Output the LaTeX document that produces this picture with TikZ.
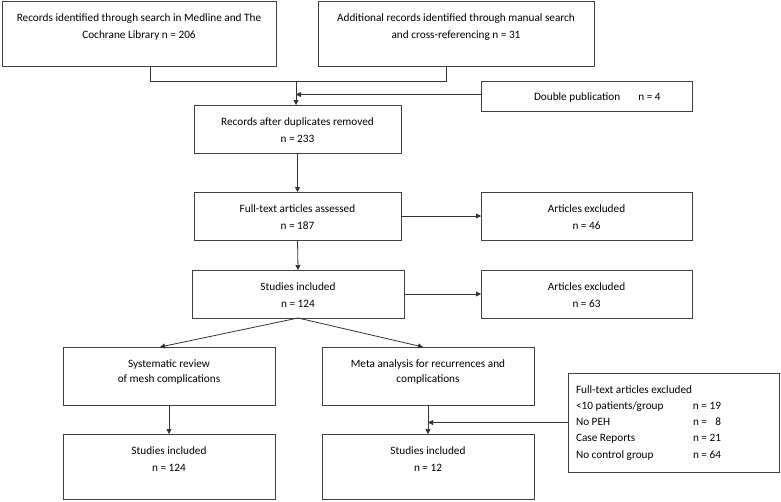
\documentclass[tikz,border=0pt]{standalone}
\usepackage{fontspec}
\setmainfont{Carlito}
\usetikzlibrary{arrows.meta,calc}
\newcommand{\cbox}[4]{\parbox[c][#2][t]{#1}{\fontsize{11.25pt}{#3}\selectfont\centering\rule{0pt}{20pt}#4}}
\tikzset{
  box/.style={draw=black!75, line width=0.8pt, inner sep=0pt, outer sep=0pt, anchor=north west},
  conn/.style={draw=black!80, line width=0.8pt},
  arr/.style={conn, -{Triangle[length=5pt,width=5pt]}}
}
\begin{document}
\begin{tikzpicture}[x=1pt,y=-1pt]
\useasboundingbox (0,0) rectangle (781,501);
\node[box] (b1) at (2,1) {\cbox{274pt}{65pt}{17pt}{Records identified through search in Medline and The\\Cochrane Library n = 206}};
\node[box] (b2) at (318,1) {\cbox{276pt}{65pt}{17pt}{Additional records identified through manual search\\and cross-referencing n = 31}};
\node[box] (dp) at (481,81) {\parbox[c][30pt][t]{211pt}{\fontsize{11.25pt}{17pt}\selectfont\rule{0pt}{19pt}\hspace*{53pt}Double publication\hspace{18pt}n = 4}};
\node[box] (b3) at (194,105) {\cbox{207pt}{48pt}{17pt}{Records after duplicates removed\\n = 233}};
\node[box] (b4) at (194,192) {\cbox{207pt}{48pt}{17pt}{Full-text articles assessed\\n = 187}};
\node[box] (ex1) at (481,192) {\cbox{211pt}{48pt}{17pt}{Articles excluded\\n = 46}};
\node[box] (b5) at (192,270) {\cbox{212pt}{48pt}{17pt}{Studies included\\n = 124}};
\node[box] (ex2) at (481,270) {\cbox{211pt}{48pt}{17pt}{Articles excluded\\n = 63}};
\node[box] (b6) at (63,347) {\cbox{212pt}{58pt}{15pt}{Systematic review\\of mesh complications}};
\node[box] (b7) at (322,347) {\cbox{212pt}{58pt}{15pt}{Meta analysis for recurrences and\\complications}};
\node[box] (b8) at (63,434) {\cbox{212pt}{65pt}{17pt}{Studies included\\n = 124}};
\node[box] (b9) at (322,434) {\cbox{212pt}{65pt}{17pt}{Studies included\\n = 12}};
\node[box] (b10) at (568,373) {\parbox[c][99pt][t]{211pt}{\fontsize{11.25pt}{16.3pt}\selectfont\raggedright\leftskip=8pt
\rule{0pt}{20pt}Full-text articles excluded\\
\makebox[117pt][l]{<10 patients/group}n = 19\\
\makebox[117pt][l]{No PEH}n = \phantom{1}8\\
\makebox[117pt][l]{Case Reports}n = 21\\
\makebox[117pt][l]{No control group}n = 64}};
\coordinate (j1) at (150,81);
\coordinate (j2) at (446,81);
\coordinate (m) at (296,81);
\draw[conn] (j1 |- b1.south) -- (j1) -- (j2) -- (j2 |- b2.south);
\draw[arr] (m) -- (m |- b3.north);
\draw[arr] ($(dp.west)+(0,-1.5)$) -- ($(dp.west -| m)+(0,-1.5)$);
\draw[arr] (b3.south) -- (b4.north);
\draw[arr] (b4.east) -- (ex1.west);
\draw[arr] (b4.south) -- (b5.north);
\draw[arr] (b5.east) -- (ex2.west);
\draw[arr] (b5.south) -- ($(b6.north)+(-9,0)$);
\draw[arr] (b5.south) -- ($(b7.north)+(-5,0)$);
\draw[arr] (b6.south) -- (b8.north);
\draw[arr] (b7.south) -- (b9.north);
\draw[arr] (b10.west) -- (b10.west -| b7.south);
\end{tikzpicture}
\end{document}
